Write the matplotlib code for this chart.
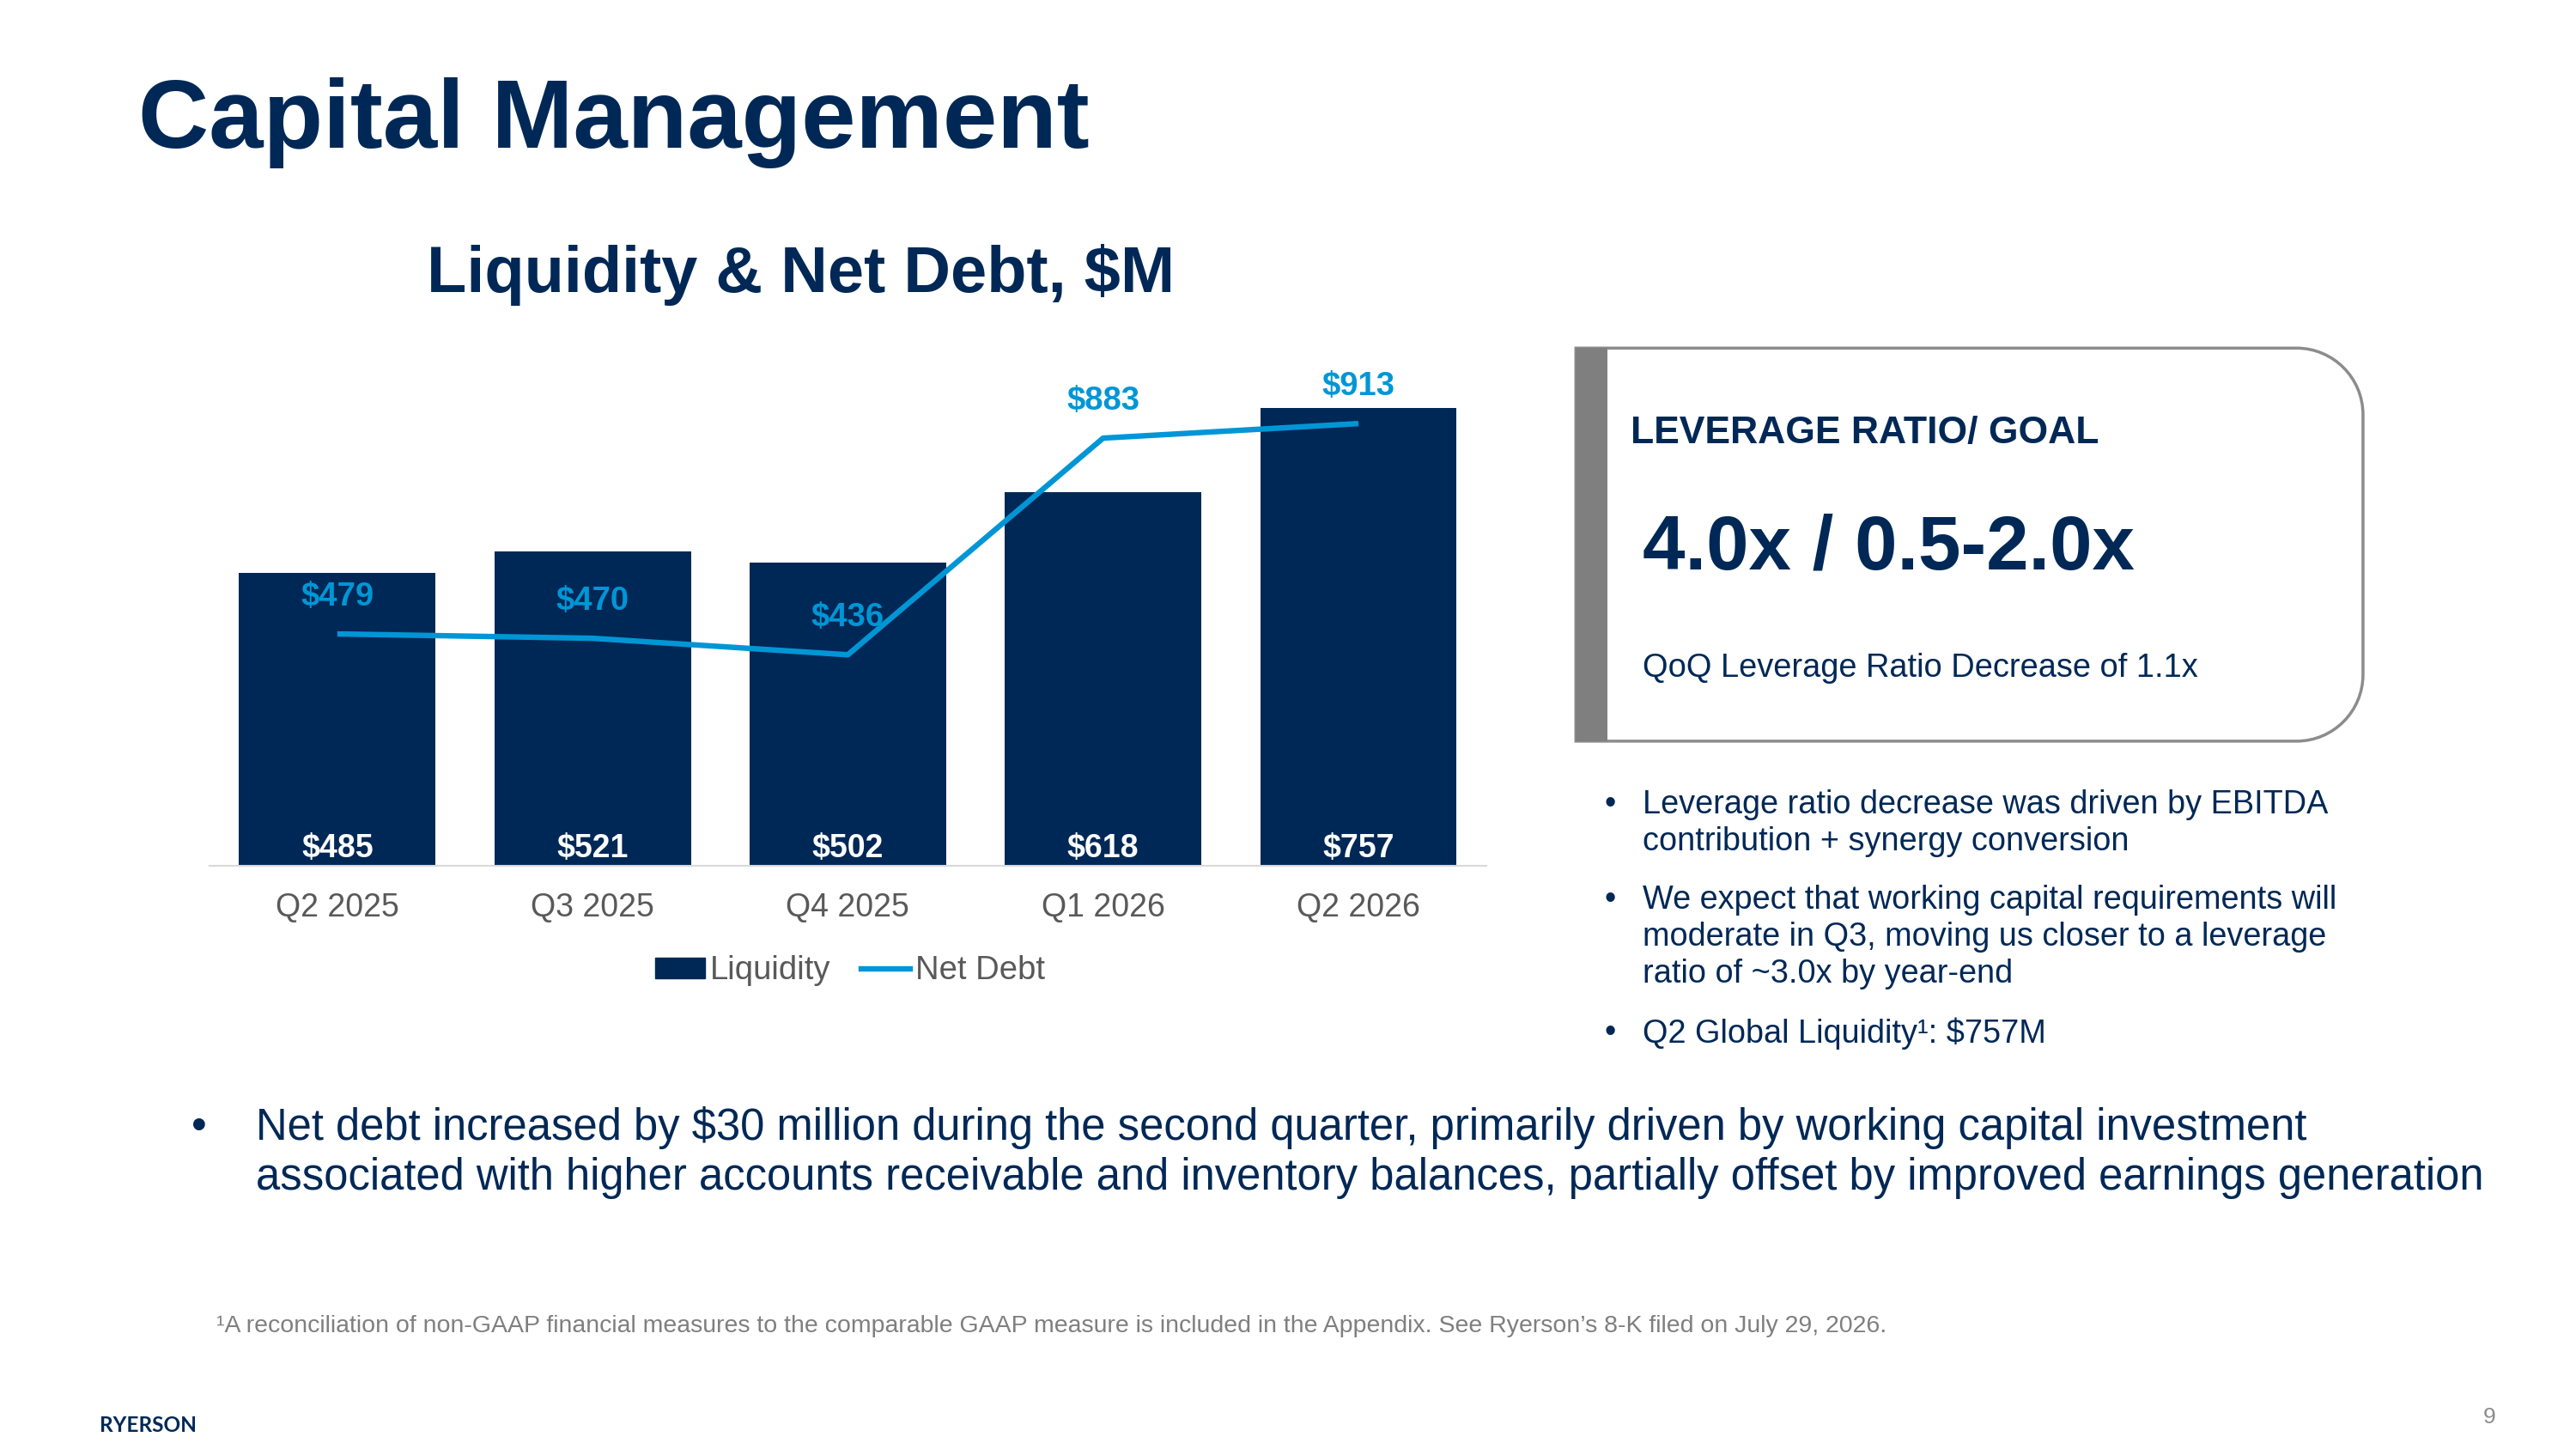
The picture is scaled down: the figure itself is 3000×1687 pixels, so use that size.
import matplotlib.pyplot as plt
from matplotlib.patches import PathPatch, Rectangle
from matplotlib.path import Path
from matplotlib.lines import Line2D

plt.rcParams['font.family'] = ['Liberation Sans', 'DejaVu Sans']

quarters = ["Q2 2025", "Q3 2025", "Q4 2025", "Q1 2026", "Q2 2026"]
liquidity = [485, 521, 502, 618, 757]
net_debt = [479, 470, 436, 883, 913]

bullets_right = [
    "Leverage ratio decrease was driven by EBITDA\ncontribution + synergy conversion",
    "We expect that working capital requirements will\nmoderate in Q3, moving us closer to a leverage\nratio of ~3.0x by year-end",
    "Q2 Global Liquidity\u00b9: $757M",
]
bottom_note = ("Net debt increased by $30 million during the second quarter, primarily driven by working capital investment\n"
               "associated with higher accounts receivable and inventory balances, partially offset by improved earnings generation")
footnote = "\u00b9A reconciliation of non-GAAP financial measures to the comparable GAAP measure is included in the Appendix. See Ryerson\u2019s 8-K filed on July 29, 2026."

NAVY = "#002856"
BLUE = "#0096d6"
GRAY = "#595959"

W, H = 1548, 870  # layout grid
def fx(x): return x / W
def fy(y): return 1 - y / H

fig = plt.figure(figsize=(30, 16.87), dpi=100)
fig.patch.set_facecolor("white")

# background layer in grid coordinates (y down)
bg = fig.add_axes([0, 0, 1, 1])
bg.set_xlim(0, W)
bg.set_ylim(H, 0)
bg.set_axis_off()

fig.text(fx(83), fy(74), "Capital Management", fontsize=82, fontweight="bold",
         color=NAVY, va="center", ha="left")
fig.text(fx(481), fy(165), "Liquidity & Net Debt, $M", fontsize=54.5, fontweight="bold",
         color=NAVY, va="center", ha="center")

# chart
ax = fig.add_axes([fx(126), fy(520), fx(893) - fx(126), fy(220) - fy(520)])
x = range(len(quarters))
ax.bar(x, liquidity, width=0.77, color=NAVY, zorder=2)
ax.set_xlim(-0.5, 4.5)
ax.set_ylim(0, 300 / 0.363)
for xi, v in zip(x, liquidity):
    ax.text(xi, 3, f"${v}", ha="center", va="bottom", color="white",
            fontsize=27, fontweight="bold", zorder=3)
for s in ["top", "right", "left"]:
    ax.spines[s].set_visible(False)
ax.spines["bottom"].set_color("#d9d9d9")
ax.spines["bottom"].set_linewidth(1.5)
ax.set_yticks([])
ax.set_xticks(list(x))
ax.set_xticklabels(quarters, fontsize=27, color=GRAY)
ax.tick_params(axis="x", length=0, pad=22)

ax2 = ax.twinx()
ax2.set_ylim(0, 300 / 0.291)
ax2.plot(x, net_debt, color=BLUE, lw=4.6, zorder=4, solid_capstyle="butt")
for xi, v in zip(x, net_debt):
    ax2.annotate(f"${v}", (xi, v), xytext=(0, 31), textcoords="offset points",
                 ha="center", va="center", color=BLUE, fontsize=27.5, fontweight="bold")
ax2.set_axis_off()

handles = [Rectangle((0, 0), 1, 1, color=NAVY), Line2D([0], [0], color=BLUE, lw=4.6)]
fig.legend(handles, ["Liquidity", "Net Debt"], loc="center", bbox_to_anchor=(fx(511), fy(583)),
           frameon=False, ncol=2, fontsize=27.5, labelcolor=GRAY,
           handlelength=1.5, handleheight=0.6, handletextpad=0.15, columnspacing=0.95)

# leverage box: square left side, rounded right corners
L, R, T, B, r = 947, 1420, 209, 445, 40
k = 0.5523 * r
verts = [(L, T), (R - r, T), (R - r + k, T), (R, T + r - k), (R, T + r),
         (R, B - r), (R, B - r + k), (R - r + k, B), (R - r, B), (L, B), (L, T)]
codes = [Path.MOVETO, Path.LINETO, Path.CURVE4, Path.CURVE4, Path.CURVE4,
         Path.LINETO, Path.CURVE4, Path.CURVE4, Path.CURVE4, Path.LINETO, Path.CLOSEPOLY]
bg.add_patch(PathPatch(Path(verts, codes), facecolor="white", edgecolor="#8c8c8c", lw=2.5))
bg.add_patch(Rectangle((L, T), 19, B - T, facecolor="#7f7f7f", edgecolor="none"))

fig.text(fx(980), fy(260), "LEVERAGE RATIO/ GOAL", fontsize=32, fontweight="bold",
         color=NAVY, va="center")
fig.text(fx(987), fy(330), "4.0x / 0.5-2.0x", fontsize=64, fontweight="bold",
         color=NAVY, va="center")
fig.text(fx(987), fy(401), "QoQ Leverage Ratio Decrease of 1.1x", fontsize=27.4,
         color=NAVY, va="center")

# right bullets
y0 = [483, 540, 620]
for yy, b in zip(y0, bullets_right):
    fig.text(fx(964), fy(yy - 9), "\u2022", fontsize=27.3, color=NAVY, va="top")
    fig.text(fx(987), fy(yy - 9), b, fontsize=27.3, color=NAVY, va="top",
             linespacing=1.26)

# bottom bullet
fig.text(fx(115), fy(664), "\u2022", fontsize=36.5, color=NAVY, va="top")
fig.text(fx(154), fy(664), bottom_note, fontsize=36.5, color=NAVY, va="top", linespacing=1.26)

fig.text(fx(130), fy(796), footnote, fontsize=20.5, color="#7f7f7f", va="center")

fig.text(fx(60), fy(856), "RYERSON", fontsize=17.6, fontweight="bold", color=NAVY,
         va="center", family=["Lato", "DejaVu Sans"])
fig.text(fx(1500), fy(851), "9", fontsize=19, color="#8c8c8c", va="center", ha="right")

fig.savefig("out.png", dpi=100, facecolor="white")
